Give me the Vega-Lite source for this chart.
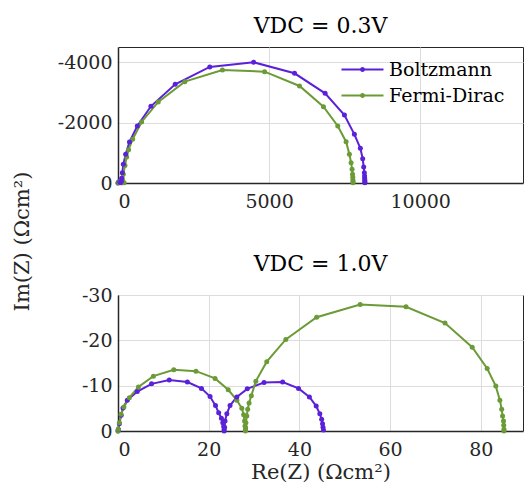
{
  "$schema": "https://vega.github.io/schema/vega-lite/v6.json",
  "padding": {"left": 10, "top": 14, "right": 3, "bottom": 5},
  "spacing": 112,
  "bounds": "flush",
  "config": {
    "font": "DejaVu Serif",
    "view": {"stroke": "#262626", "strokeWidth": 1},
    "axis": {
      "labelFont": "DejaVu Serif", "labelFontSize": 19, "labelColor": "#262626",
      "titleFont": "DejaVu Serif", "titleFontSize": 21, "titleFontWeight": "normal", "titleColor": "#262626",
      "gridColor": "#dcdcdc", "gridWidth": 1,
      "domainColor": "#262626", "domainWidth": 1.5,
      "ticks": false, "labelPadding": 9
    },
    "axisY": {"labelPadding": 6},
    "title": {"font": "DejaVu Serif", "fontSize": 22, "fontWeight": "normal", "color": "#000000"},
    "legend": {"labelFont": "DejaVu Serif", "labelFontSize": 19, "labelColor": "#000000"}
  },
  "datasets": {
    "top": [
      {"model": "Boltzmann", "i": 1, "re": 0, "im": 0},
      {"model": "Boltzmann", "i": 2, "re": 20, "im": -35},
      {"model": "Boltzmann", "i": 3, "re": 60, "im": -45},
      {"model": "Boltzmann", "i": 4, "re": 95, "im": -25},
      {"model": "Boltzmann", "i": 5, "re": 110, "im": -5},
      {"model": "Boltzmann", "i": 6, "re": 112, "im": -50},
      {"model": "Boltzmann", "i": 7, "re": 121, "im": -155},
      {"model": "Boltzmann", "i": 8, "re": 143, "im": -342},
      {"model": "Boltzmann", "i": 9, "re": 176, "im": -618},
      {"model": "Boltzmann", "i": 10, "re": 253, "im": -949},
      {"model": "Boltzmann", "i": 11, "re": 380, "im": -1357},
      {"model": "Boltzmann", "i": 12, "re": 638, "im": -1886},
      {"model": "Boltzmann", "i": 13, "re": 1089, "im": -2538},
      {"model": "Boltzmann", "i": 14, "re": 1892, "im": -3266},
      {"model": "Boltzmann", "i": 15, "re": 3036, "im": -3839},
      {"model": "Boltzmann", "i": 16, "re": 4488, "im": -3995},
      {"model": "Boltzmann", "i": 17, "re": 5841, "im": -3630},
      {"model": "Boltzmann", "i": 18, "re": 6853, "im": -2968},
      {"model": "Boltzmann", "i": 19, "re": 7491, "im": -2251},
      {"model": "Boltzmann", "i": 20, "re": 7821, "im": -1611},
      {"model": "Boltzmann", "i": 21, "re": 8019, "im": -1148},
      {"model": "Boltzmann", "i": 22, "re": 8096, "im": -805},
      {"model": "Boltzmann", "i": 23, "re": 8129, "im": -530},
      {"model": "Boltzmann", "i": 24, "re": 8151, "im": -342},
      {"model": "Boltzmann", "i": 25, "re": 8158, "im": -232},
      {"model": "Boltzmann", "i": 26, "re": 8162, "im": -155},
      {"model": "Boltzmann", "i": 27, "re": 8165, "im": -88},
      {"model": "Boltzmann", "i": 28, "re": 8167, "im": -40},
      {"model": "Boltzmann", "i": 29, "re": 8168, "im": -10},
      {"model": "Fermi-Dirac", "i": 1, "re": 0, "im": 0},
      {"model": "Fermi-Dirac", "i": 2, "re": 30, "im": -45},
      {"model": "Fermi-Dirac", "i": 3, "re": 100, "im": -65},
      {"model": "Fermi-Dirac", "i": 4, "re": 165, "im": -40},
      {"model": "Fermi-Dirac", "i": 5, "re": 200, "im": -8},
      {"model": "Fermi-Dirac", "i": 6, "re": 175, "im": -288},
      {"model": "Fermi-Dirac", "i": 7, "re": 231, "im": -580},
      {"model": "Fermi-Dirac", "i": 8, "re": 287, "im": -860},
      {"model": "Fermi-Dirac", "i": 9, "re": 350, "im": -1100},
      {"model": "Fermi-Dirac", "i": 10, "re": 484, "im": -1446},
      {"model": "Fermi-Dirac", "i": 11, "re": 781, "im": -2019},
      {"model": "Fermi-Dirac", "i": 12, "re": 1331, "im": -2681},
      {"model": "Fermi-Dirac", "i": 13, "re": 2211, "im": -3353},
      {"model": "Fermi-Dirac", "i": 14, "re": 3454, "im": -3740},
      {"model": "Fermi-Dirac", "i": 15, "re": 4851, "im": -3683},
      {"model": "Fermi-Dirac", "i": 16, "re": 6006, "im": -3211},
      {"model": "Fermi-Dirac", "i": 17, "re": 6798, "im": -2526},
      {"model": "Fermi-Dirac", "i": 18, "re": 7271, "im": -1886},
      {"model": "Fermi-Dirac", "i": 19, "re": 7547, "im": -1367},
      {"model": "Fermi-Dirac", "i": 20, "re": 7656, "im": -950},
      {"model": "Fermi-Dirac", "i": 21, "re": 7712, "im": -672},
      {"model": "Fermi-Dirac", "i": 22, "re": 7745, "im": -453},
      {"model": "Fermi-Dirac", "i": 23, "re": 7760, "im": -287},
      {"model": "Fermi-Dirac", "i": 24, "re": 7768, "im": -188},
      {"model": "Fermi-Dirac", "i": 25, "re": 7772, "im": -100},
      {"model": "Fermi-Dirac", "i": 26, "re": 7775, "im": -45},
      {"model": "Fermi-Dirac", "i": 27, "re": 7776, "im": -10}
    ],
    "bottom": [
      {"model": "Boltzmann", "i": 1, "re": 0, "im": 0},
      {"model": "Boltzmann", "i": 2, "re": 0.07, "im": -0.4},
      {"model": "Boltzmann", "i": 3, "re": 0.3, "im": -1.6},
      {"model": "Boltzmann", "i": 4, "re": 0.7, "im": -3.5},
      {"model": "Boltzmann", "i": 5, "re": 1.1, "im": -5.1},
      {"model": "Boltzmann", "i": 6, "re": 2.05, "im": -6.8},
      {"model": "Boltzmann", "i": 7, "re": 4.25, "im": -8.7},
      {"model": "Boltzmann", "i": 8, "re": 7.4, "im": -10.4},
      {"model": "Boltzmann", "i": 9, "re": 11.3, "im": -11.25},
      {"model": "Boltzmann", "i": 10, "re": 15.3, "im": -10.8},
      {"model": "Boltzmann", "i": 11, "re": 18.4, "im": -9.4},
      {"model": "Boltzmann", "i": 12, "re": 20.3, "im": -7.6},
      {"model": "Boltzmann", "i": 13, "re": 21.5, "im": -5.6},
      {"model": "Boltzmann", "i": 14, "re": 22.2, "im": -4.0},
      {"model": "Boltzmann", "i": 15, "re": 22.8, "im": -2.8},
      {"model": "Boltzmann", "i": 16, "re": 23.1, "im": -1.8},
      {"model": "Boltzmann", "i": 17, "re": 23.3, "im": -1.0},
      {"model": "Boltzmann", "i": 18, "re": 23.4, "im": -0.4},
      {"model": "Boltzmann", "i": 19, "re": 23.4, "im": 0},
      {"model": "Boltzmann", "i": 20, "re": 23.5, "im": -0.8},
      {"model": "Boltzmann", "i": 21, "re": 23.6, "im": -2.2},
      {"model": "Boltzmann", "i": 22, "re": 24.0, "im": -3.8},
      {"model": "Boltzmann", "i": 23, "re": 24.7, "im": -5.6},
      {"model": "Boltzmann", "i": 24, "re": 26.2, "im": -7.5},
      {"model": "Boltzmann", "i": 25, "re": 28.5, "im": -9.3},
      {"model": "Boltzmann", "i": 26, "re": 32.2, "im": -10.7},
      {"model": "Boltzmann", "i": 27, "re": 36.3, "im": -10.8},
      {"model": "Boltzmann", "i": 28, "re": 39.8, "im": -9.4},
      {"model": "Boltzmann", "i": 29, "re": 42.2, "im": -7.5},
      {"model": "Boltzmann", "i": 30, "re": 43.7, "im": -5.5},
      {"model": "Boltzmann", "i": 31, "re": 44.5, "im": -3.8},
      {"model": "Boltzmann", "i": 32, "re": 44.9, "im": -2.6},
      {"model": "Boltzmann", "i": 33, "re": 45.1, "im": -1.6},
      {"model": "Boltzmann", "i": 34, "re": 45.2, "im": -0.8},
      {"model": "Boltzmann", "i": 35, "re": 45.3, "im": -0.2},
      {"model": "Fermi-Dirac", "i": 1, "re": 0, "im": 0},
      {"model": "Fermi-Dirac", "i": 2, "re": 0.07, "im": -0.37},
      {"model": "Fermi-Dirac", "i": 3, "re": 0.3, "im": -1.8},
      {"model": "Fermi-Dirac", "i": 4, "re": 0.66, "im": -3.7},
      {"model": "Fermi-Dirac", "i": 5, "re": 1.3, "im": -5.3},
      {"model": "Fermi-Dirac", "i": 6, "re": 2.5, "im": -7.35},
      {"model": "Fermi-Dirac", "i": 7, "re": 4.5, "im": -9.7},
      {"model": "Fermi-Dirac", "i": 8, "re": 7.8, "im": -12.1},
      {"model": "Fermi-Dirac", "i": 9, "re": 12.3, "im": -13.5},
      {"model": "Fermi-Dirac", "i": 10, "re": 17.2, "im": -13.2},
      {"model": "Fermi-Dirac", "i": 11, "re": 21.4, "im": -11.6},
      {"model": "Fermi-Dirac", "i": 12, "re": 24.3, "im": -9.1},
      {"model": "Fermi-Dirac", "i": 13, "re": 26.2, "im": -6.8},
      {"model": "Fermi-Dirac", "i": 14, "re": 27.3, "im": -5.0},
      {"model": "Fermi-Dirac", "i": 15, "re": 27.7, "im": -3.6},
      {"model": "Fermi-Dirac", "i": 16, "re": 27.9, "im": -2.2},
      {"model": "Fermi-Dirac", "i": 17, "re": 28.0, "im": -1.1},
      {"model": "Fermi-Dirac", "i": 18, "re": 28.1, "im": -0.3},
      {"model": "Fermi-Dirac", "i": 19, "re": 28.1, "im": 0},
      {"model": "Fermi-Dirac", "i": 20, "re": 28.15, "im": -0.7},
      {"model": "Fermi-Dirac", "i": 21, "re": 28.2, "im": -1.8},
      {"model": "Fermi-Dirac", "i": 22, "re": 28.4, "im": -3.3},
      {"model": "Fermi-Dirac", "i": 23, "re": 28.6, "im": -4.8},
      {"model": "Fermi-Dirac", "i": 24, "re": 28.9, "im": -6.2},
      {"model": "Fermi-Dirac", "i": 25, "re": 29.4, "im": -7.8},
      {"model": "Fermi-Dirac", "i": 26, "re": 30.4, "im": -11.0},
      {"model": "Fermi-Dirac", "i": 27, "re": 32.8, "im": -15.3},
      {"model": "Fermi-Dirac", "i": 28, "re": 37.0, "im": -20.2},
      {"model": "Fermi-Dirac", "i": 29, "re": 43.8, "im": -25.1},
      {"model": "Fermi-Dirac", "i": 30, "re": 53.4, "im": -27.9},
      {"model": "Fermi-Dirac", "i": 31, "re": 63.5, "im": -27.4},
      {"model": "Fermi-Dirac", "i": 32, "re": 72.1, "im": -23.8},
      {"model": "Fermi-Dirac", "i": 33, "re": 78.1, "im": -18.5},
      {"model": "Fermi-Dirac", "i": 34, "re": 81.4, "im": -13.8},
      {"model": "Fermi-Dirac", "i": 35, "re": 83.3, "im": -9.9},
      {"model": "Fermi-Dirac", "i": 36, "re": 84.2, "im": -6.8},
      {"model": "Fermi-Dirac", "i": 37, "re": 84.6, "im": -4.8},
      {"model": "Fermi-Dirac", "i": 38, "re": 84.8, "im": -3.3},
      {"model": "Fermi-Dirac", "i": 39, "re": 85.0, "im": -2.2},
      {"model": "Fermi-Dirac", "i": 40, "re": 85.05, "im": -1.25},
      {"model": "Fermi-Dirac", "i": 41, "re": 85.1, "im": -0.4},
      {"model": "Fermi-Dirac", "i": 42, "re": 85.1, "im": 0}
    ]
  },
  "resolve": {"scale": {"color": "independent"}, "legend": {"color": "independent"}},
  "vconcat": [
    {
      "width": 405, "height": 136,
      "title": {"text": "VDC = 0.3V", "offset": 9},
      "data": {"name": "top"},
      "encoding": {
        "x": {"field": "re", "type": "quantitative", "scale": {"domain": [0, 13400], "nice": false, "zero": false},
              "axis": {"values": [0, 5000, 10000], "title": null, "labelExpr": "'' + datum.value"}},
        "y": {"field": "im", "type": "quantitative", "scale": {"domain": [0, -4500], "nice": false},
              "axis": {"values": [0, -2000, -4000], "title": "Im(Z) (Ωcm²)", "titleX": -96, "titleY": 194, "titleAngle": -90, "titleBaseline": "middle", "titleAlign": "center", "labelExpr": "'' + datum.value"}},
        "color": {"field": "model", "type": "nominal",
                  "scale": {"domain": ["Boltzmann", "Fermi-Dirac"], "range": ["#5b21d8", "#6b9b37"]},
                  "legend": {"orient": "none", "legendX": 235, "legendY": 13, "title": null, "padding": 0,
                             "symbolType": "M-4.2,0H4.2M0.3,0A0.3,0.3,0,1,1,-0.3,0A0.3,0.3,0,1,1,0.3,0",
                             "symbolSize": 100, "symbolStrokeWidth": 2, "labelOffset": 17, "rowPadding": 6}},
        "order": {"field": "i", "type": "quantitative"}
      },
      "layer": [
        {"mark": {"type": "line", "strokeWidth": 2}},
        {"mark": {"type": "point", "filled": true, "size": 25, "opacity": 1}}
      ]
    },
    {
      "width": 405, "height": 136,
      "title": {"text": "VDC = 1.0V", "offset": 10},
      "data": {"name": "bottom"},
      "encoding": {
        "x": {"field": "re", "type": "quantitative", "scale": {"domain": [0, 89.3], "nice": false, "zero": false},
              "axis": {"values": [0, 20, 40, 60, 80], "title": "Re(Z) (Ωcm²)", "titlePadding": 2}},
        "y": {"field": "im", "type": "quantitative", "scale": {"domain": [0, -30], "nice": false},
              "axis": {"values": [0, -10, -20, -30], "title": null, "labelExpr": "'' + datum.value"}},
        "color": {"field": "model", "type": "nominal",
                  "scale": {"domain": ["Boltzmann", "Fermi-Dirac"], "range": ["#5b21d8", "#6b9b37"]},
                  "legend": null},
        "order": {"field": "i", "type": "quantitative"}
      },
      "layer": [
        {"mark": {"type": "line", "strokeWidth": 2}},
        {"mark": {"type": "point", "filled": true, "size": 25, "opacity": 1}}
      ]
    }
  ]
}
